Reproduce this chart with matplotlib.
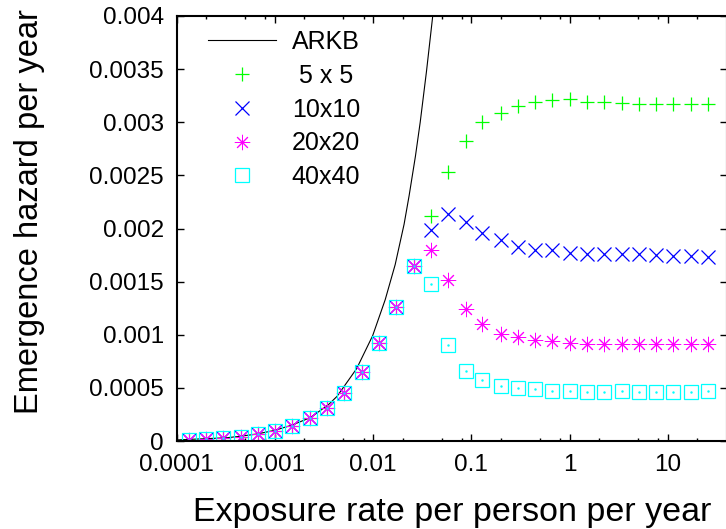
#!/usr/bin/env python3
import matplotlib
matplotlib.use("Agg")
import matplotlib.pyplot as plt
from matplotlib.ticker import LogLocator, NullFormatter, FixedLocator, FixedFormatter

##################################################
##                  DATOS                       ##
##################################################

# exposure rate per person per year (same for all lattices)
rate = [0.000133, 0.0002, 0.0003, 0.00045, 0.00068, 0.001, 0.0015, 0.0023,
        0.0034, 0.0051, 0.0077, 0.0116, 0.0173, 0.026, 0.039, 0.0585, 0.088,
        0.13, 0.2, 0.3, 0.44, 0.67, 1.0, 1.5, 2.25, 3.4, 5.1, 7.6, 11.4, 17.1, 25.6]

# low exposure part, all lattices sit on top of each other
hazard_low = [0.0000094, 0.000019, 0.000028, 0.00004, 0.000063, 0.000094, 0.000144,
              0.000213, 0.000307, 0.000455, 0.000652, 0.00092, 0.001264, 0.00165]

hazard_5 = [0.00212, 0.00253, 0.00282, 0.00300, 0.00309, 0.00315, 0.00319, 0.00321,
            0.00322, 0.00319, 0.00319, 0.00318, 0.00317, 0.00317, 0.00317, 0.00317, 0.00317]
hazard_10 = [0.00199, 0.00214, 0.00206, 0.00196, 0.00189, 0.00183, 0.00180, 0.00180,
             0.00177, 0.00176, 0.00176, 0.00176, 0.00176, 0.00175, 0.00174, 0.00174, 0.00173]
hazard_20 = [0.00180, 0.00152, 0.00124, 0.00110, 0.00101, 0.00098, 0.00095, 0.00094,
             0.00092, 0.00091, 0.00091, 0.00091, 0.00091, 0.00091, 0.00091, 0.00091, 0.00091]
hazard_40 = [0.00148, 0.00090, 0.00066, 0.00057, 0.00052, 0.00050, 0.00049, 0.00047,
             0.00047, 0.000465, 0.000465, 0.00047, 0.000465, 0.000465, 0.000465, 0.000465, 0.00047]

# ARKB curve
arkb_x = [0.0001, 0.00032, 0.00044, 0.00065, 0.0010, 0.0015, 0.0023, 0.0035, 0.0043,
          0.0068, 0.0099, 0.0133, 0.0168, 0.0207, 0.0233, 0.0270, 0.0302, 0.0350, 0.0405]
arkb_y = [0.00001, 0.00003, 0.000044, 0.000065, 0.0001, 0.00015, 0.00022, 0.00034, 0.00042,
          0.00068, 0.00099, 0.00133, 0.00166, 0.00204, 0.00231, 0.00268, 0.0030, 0.00348, 0.0040]

labels = ["ARKB", " 5 x 5", "10x10", "20x20", "40x40"]
xticks = [0.0001, 0.001, 0.01, 0.1, 1, 10]
xticklabels = ["0.0001", "0.001", "0.01", "0.1", "1", "10"]
yticks = [0, 0.0005, 0.001, 0.0015, 0.002, 0.0025, 0.003, 0.0035, 0.004]
yticklabels = ["0", "0.0005", "0.001", "0.0015", "0.002", "0.0025", "0.003", "0.0035", "0.004"]

##################################################
##                  GRAFICO                     ##
##################################################

plt.rcParams['font.family'] = ['Liberation Sans', 'DejaVu Sans']

fig = plt.figure(figsize=(7.26, 5.29), dpi=100)
ax = fig.add_axes([176.5/726, 88/529, 550.5/726, 425/529])

ax.plot(arkb_x, arkb_y, color="black", lw=0.8, label=labels[0])

ms = 9.5
ax.plot(rate, hazard_low + hazard_5, ls="none", marker="+", ms=ms, mew=0.9,
        color="#00ff00", label=labels[1])
ax.plot(rate, hazard_low + hazard_10, ls="none", marker="x", ms=ms, mew=0.9,
        color="#0000ff", label=labels[2])
ax.plot(rate, hazard_low + hazard_20, ls="none", marker=(8, 2, 0), ms=ms + 1.5, mew=0.7,
        color="#ff00ff", label=labels[3])
ax.plot(rate, hazard_low + hazard_40, ls="none", marker="s", ms=ms, mew=0.9,
        mfc="none", color="#00ffff", label=labels[4])
ax.plot(rate, hazard_low + hazard_40, ls="none", marker=".", ms=1.5, color="#00ffff")

ax.set_xscale("log")
ax.set_xlim(1e-4, 40)
ax.set_ylim(0, 0.004)

ax.xaxis.set_major_locator(FixedLocator(xticks))
ax.xaxis.set_major_formatter(FixedFormatter(xticklabels))
ax.xaxis.set_minor_locator(LogLocator(base=10, subs=[2, 5, 8]))
ax.xaxis.set_minor_formatter(NullFormatter())
ax.yaxis.set_major_locator(FixedLocator(yticks))
ax.yaxis.set_major_formatter(FixedFormatter(yticklabels))

ax.tick_params(which="both", direction="in", top=True, right=True, labelsize=17.5, width=1.0)
ax.tick_params(which="major", length=5)
ax.tick_params(which="minor", length=2.5)
ax.tick_params(axis="x", pad=9.5)
ax.tick_params(axis="y", pad=9)
for s in ax.spines.values():
    s.set_linewidth(1.5)

ax.set_xlabel("Exposure rate per person per year", fontsize=24.5, labelpad=15)
ax.set_ylabel("Emergence hazard per year", fontsize=23.5)
ax.yaxis.set_label_coords(-0.239, 0.541)

leg = ax.legend(loc="upper left", bbox_to_anchor=(0.0573, 0.967), frameon=False,
                fontsize=18, handlelength=2.72, handletextpad=0.63, labelspacing=0.39,
                borderpad=0, borderaxespad=0)

fig.savefig("out.png", dpi=100)
